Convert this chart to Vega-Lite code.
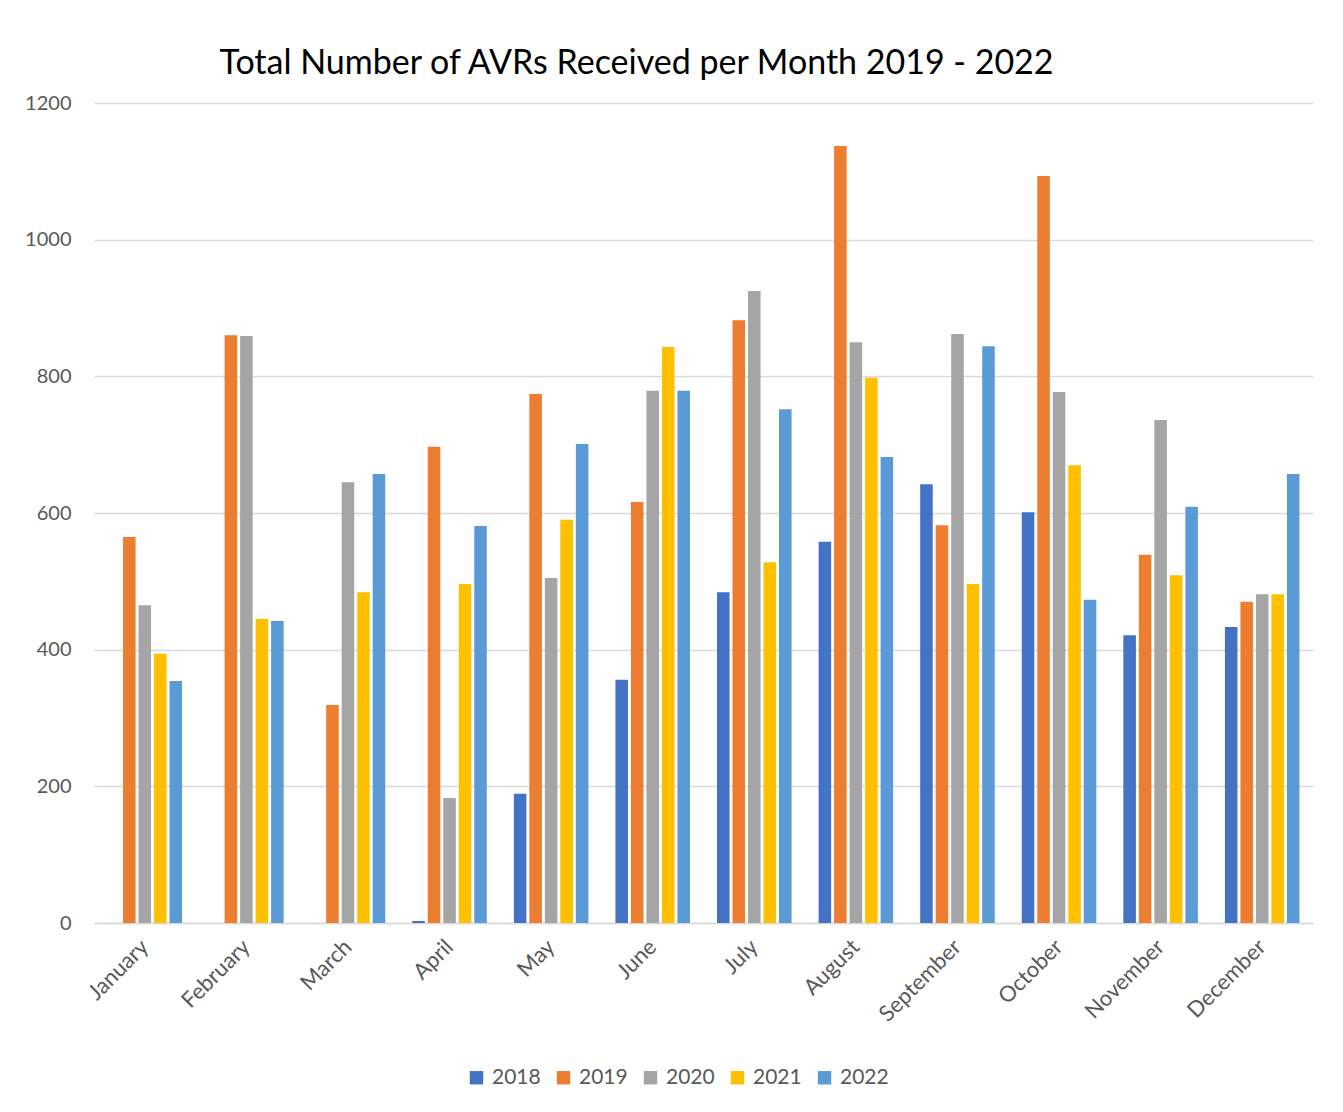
{
  "$schema": "https://vega.github.io/schema/vega-lite/v6.json",
  "width": 1219,
  "height": 820,
  "autosize": {"type": "none"},
  "padding": {"left": 94, "top": 103, "right": 30, "bottom": 189},
  "background": "#ffffff",
  "title": {
    "text": "Total Number of AVRs Received per Month 2019 - 2022",
    "anchor": "middle",
    "dx": -67,
    "dy": 43,
    "offset": 28,
    "baseline": "alphabetic",
    "font": "Lato",
    "fontSize": 34,
    "fontWeight": "normal",
    "color": "#000000"
  },
  "config": {
    "view": {"stroke": null},
    "font": "Lato"
  },
  "data": {
    "values": [
      {"month": "January", "year": "2019", "value": 565},
      {"month": "January", "year": "2020", "value": 465},
      {"month": "January", "year": "2021", "value": 394},
      {"month": "January", "year": "2022", "value": 354},
      {"month": "February", "year": "2019", "value": 860},
      {"month": "February", "year": "2020", "value": 859},
      {"month": "February", "year": "2021", "value": 445},
      {"month": "February", "year": "2022", "value": 442},
      {"month": "March", "year": "2019", "value": 319},
      {"month": "March", "year": "2020", "value": 645},
      {"month": "March", "year": "2021", "value": 484},
      {"month": "March", "year": "2022", "value": 657},
      {"month": "April", "year": "2018", "value": 3},
      {"month": "April", "year": "2019", "value": 697},
      {"month": "April", "year": "2020", "value": 183},
      {"month": "April", "year": "2021", "value": 496},
      {"month": "April", "year": "2022", "value": 581},
      {"month": "May", "year": "2018", "value": 189},
      {"month": "May", "year": "2019", "value": 774},
      {"month": "May", "year": "2020", "value": 505},
      {"month": "May", "year": "2021", "value": 590},
      {"month": "May", "year": "2022", "value": 701},
      {"month": "June", "year": "2018", "value": 356},
      {"month": "June", "year": "2019", "value": 616},
      {"month": "June", "year": "2020", "value": 779},
      {"month": "June", "year": "2021", "value": 843},
      {"month": "June", "year": "2022", "value": 779},
      {"month": "July", "year": "2018", "value": 484},
      {"month": "July", "year": "2019", "value": 882},
      {"month": "July", "year": "2020", "value": 925},
      {"month": "July", "year": "2021", "value": 528},
      {"month": "July", "year": "2022", "value": 752},
      {"month": "August", "year": "2018", "value": 558},
      {"month": "August", "year": "2019", "value": 1137},
      {"month": "August", "year": "2020", "value": 850},
      {"month": "August", "year": "2021", "value": 798},
      {"month": "August", "year": "2022", "value": 682},
      {"month": "September", "year": "2018", "value": 642},
      {"month": "September", "year": "2019", "value": 582},
      {"month": "September", "year": "2020", "value": 862},
      {"month": "September", "year": "2021", "value": 496},
      {"month": "September", "year": "2022", "value": 844},
      {"month": "October", "year": "2018", "value": 601},
      {"month": "October", "year": "2019", "value": 1093},
      {"month": "October", "year": "2020", "value": 777},
      {"month": "October", "year": "2021", "value": 670},
      {"month": "October", "year": "2022", "value": 473},
      {"month": "November", "year": "2018", "value": 421},
      {"month": "November", "year": "2019", "value": 539},
      {"month": "November", "year": "2020", "value": 736},
      {"month": "November", "year": "2021", "value": 509},
      {"month": "November", "year": "2022", "value": 609},
      {"month": "December", "year": "2018", "value": 433},
      {"month": "December", "year": "2019", "value": 470},
      {"month": "December", "year": "2020", "value": 481},
      {"month": "December", "year": "2021", "value": 481},
      {"month": "December", "year": "2022", "value": 657}
    ]
  },
  "mark": {"type": "bar"},
  "encoding": {
    "x": {
      "field": "month",
      "type": "nominal",
      "sort": ["January","February","March","April","May","June","July","August","September","October","November","December"],
      "scale": {"paddingInner": 0.266, "paddingOuter": 0.133},
      "axis": {
        "title": null,
        "labelAngle": -45,
        "labelAlign": "right",
        "labelBaseline": "middle",
        "labelPadding": 20,
        "labelFontSize": 22,
        "labelColor": "#595959",
        "labelFont": "Lato",
        "ticks": false,
        "domainColor": "#D9D9D9",
        "domainWidth": 1.5,
        "grid": false
      }
    },
    "xOffset": {
      "field": "year",
      "type": "nominal",
      "scale": {"paddingInner": 0.19, "paddingOuter": 0}
    },
    "y": {
      "field": "value",
      "type": "quantitative",
      "scale": {"domain": [0, 1200], "nice": false},
      "axis": {
        "title": null,
        "values": [0, 200, 400, 600, 800, 1000, 1200],
        "format": "d",
        "labelFontSize": 20,
        "labelColor": "#595959",
        "labelFont": "Lato",
        "labelPadding": 23,
        "ticks": false,
        "domain": false,
        "gridColor": "#D9D9D9",
        "gridWidth": 1.3
      }
    },
    "color": {
      "field": "year",
      "type": "nominal",
      "scale": {
        "domain": ["2018","2019","2020","2021","2022"],
        "range": ["#4472C4","#ED7D31","#A5A5A5","#FFC000","#5B9BD5"]
      },
      "legend": {
        "title": null,
        "orient": "none",
        "direction": "horizontal",
        "legendX": 372,
        "legendY": 964,
        "symbolType": "square",
        "symbolSize": 180,
        "symbolStrokeWidth": 0,
        "labelFontSize": 21,
        "labelColor": "#595959",
        "labelFont": "Lato",
        "columnPadding": 12,
        "labelOffset": 5
      }
    }
  }
}
